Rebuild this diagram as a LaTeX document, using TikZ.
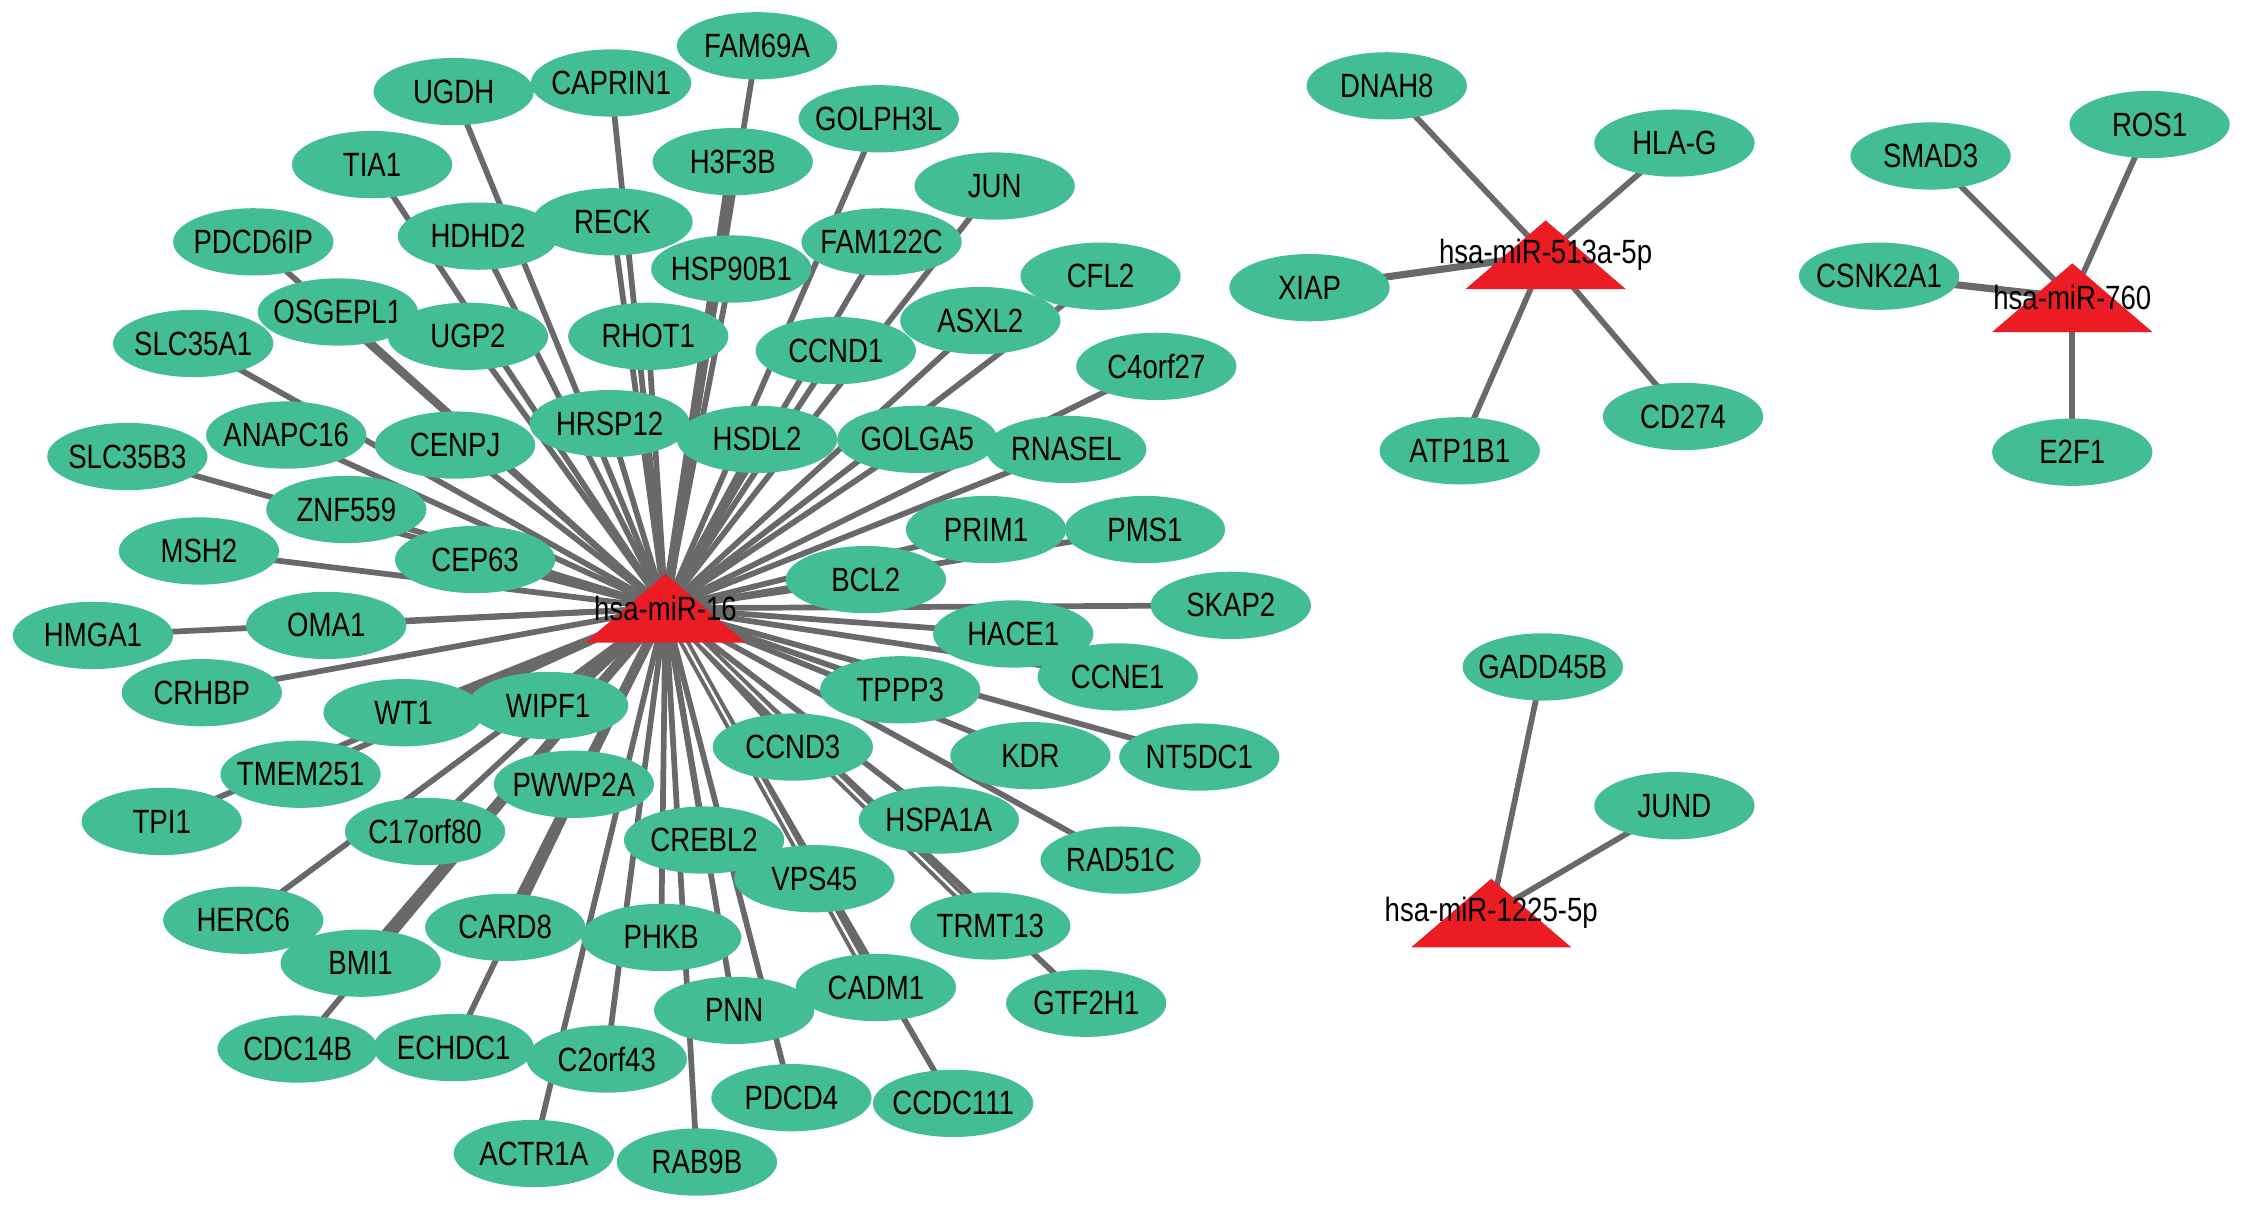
\documentclass[tikz,border=0pt]{standalone}
\usepackage{fontspec}
\setmainfont{Liberation Sans}[FakeStretch=0.82]
\usetikzlibrary{shapes.geometric}
\pgfdeclarelayer{background}
\pgfsetlayers{background,main}
\definecolor{gcol}{RGB}{67,189,148}
\definecolor{rcol}{RGB}{236,28,36}
\definecolor{ecol}{RGB}{105,105,105}
\begin{document}
\begin{tikzpicture}[x=1pt,y=-1pt,
  zerow/.style={execute at begin node={\hbox to 0pt\bgroup\hss}, execute at end node={\hss\egroup}},
  gene/.style={ellipse, fill=gcol, minimum width=112pt, minimum height=47pt, inner sep=0pt, outer sep=0pt, font=\fontsize{23.5}{28}\selectfont, zerow},
  mir/.style={rectangle, minimum width=112pt, minimum height=48pt, inner sep=0pt, outer sep=0pt, font=\fontsize{23.5}{28}\selectfont, zerow,
    path picture={\fill[rcol] (path picture bounding box.south west) -- (path picture bounding box.south east) -- (path picture bounding box.north) -- cycle;}},
  lnk/.style={draw=ecol, line width=4pt},
  lnkw/.style={draw=ecol, line width=7pt},
  lnkm/.style={draw=ecol, line width=5pt},
  lnkd/.style={draw=ecol, line width=2.8pt, double=white, double distance=1.6pt}]
\useasboundingbox (0,0) rectangle (1568,845);
% genes of hsa-miR-16
\node[gene] (FAM69A) at (529,32) {FAM69A};
\node[gene] (UGDH) at (317,64) {UGDH};
\node[gene] (CAPRIN1) at (427,58) {CAPRIN1};
\node[gene] (GOLPH3L) at (614,83) {GOLPH3L};
\node[gene] (H3F3B) at (512,113) {H3F3B};
\node[gene] (TIA1) at (260,115) {TIA1};
\node[gene] (JUN) at (695,130) {JUN};
\node[gene] (HDHD2) at (334,165) {HDHD2};
\node[gene] (RECK) at (428,155) {RECK};
\node[gene] (HSP90B1) at (511,188) {HSP90B1};
\node[gene] (FAM122C) at (616,169) {FAM122C};
\node[gene] (CFL2) at (769,193) {CFL2};
\node[gene] (PDCD6IP) at (177,169) {PDCD6IP};
\node[gene] (OSGEPL1) at (236,218) {OSGEPL1};
\node[gene] (UGP2) at (327,235) {UGP2};
\node[gene] (RHOT1) at (453,235) {RHOT1};
\node[gene] (CCND1) at (584,245) {CCND1};
\node[gene] (ASXL2) at (685,224) {ASXL2};
\node[gene] (C4orf27) at (808,256) {C4orf27};
\node[gene] (SLC35A1) at (135,240) {SLC35A1};
\node[gene] (ANAPC16) at (200,304) {ANAPC16};
\node[gene] (CENPJ) at (318,311) {CENPJ};
\node[gene] (HRSP12) at (426,296) {HRSP12};
\node[gene] (HSDL2) at (529,307) {HSDL2};
\node[gene] (GOLGA5) at (641,307) {GOLGA5};
\node[gene] (RNASEL) at (745,314) {RNASEL};
\node[gene] (SLC35B3) at (89,319) {SLC35B3};
\node[gene] (ZNF559) at (242,356) {ZNF559};
\node[gene] (CEP63) at (332,391) {CEP63};
\node[gene] (MSH2) at (139,385) {MSH2};
\node[gene] (PRIM1) at (689,370) {PRIM1};
\node[gene] (PMS1) at (800,370) {PMS1};
\node[gene] (BCL2) at (605,405) {BCL2};
\node[gene] (SKAP2) at (860,423) {SKAP2};
\node[gene] (HMGA1) at (65,444) {HMGA1};
\node[gene] (OMA1) at (228,437) {OMA1};
\node[gene] (HACE1) at (708,443) {HACE1};
\node[gene] (CCNE1) at (781,473) {CCNE1};
\node[gene] (CRHBP) at (141,484) {CRHBP};
\node[gene] (WT1) at (282,498) {WT1};
\node[gene] (WIPF1) at (383,493) {WIPF1};
\node[gene] (TPPP3) at (629,482) {TPPP3};
\node[gene] (KDR) at (720,528) {KDR};
\node[gene] (NT5DC1) at (838,529) {NT5DC1};
\node[gene] (CCND3) at (554,522) {CCND3};
\node[gene] (TMEM251) at (210,541) {TMEM251};
\node[gene] (PWWP2A) at (401,548) {PWWP2A};
\node[gene] (TPI1) at (113,574) {TPI1};
\node[gene] (C17orf80) at (297,581) {C17orf80};
\node[gene] (HSPA1A) at (656,573) {HSPA1A};
\node[gene] (CREBL2) at (492,587) {CREBL2};
\node[gene] (VPS45) at (569,614) {VPS45};
\node[gene] (RAD51C) at (783,601) {RAD51C};
\node[gene] (HERC6) at (170,643) {HERC6};
\node[gene] (CARD8) at (353,648) {CARD8};
\node[gene] (PHKB) at (462,655) {PHKB};
\node[gene] (TRMT13) at (692,647) {TRMT13};
\node[gene] (BMI1) at (252,673) {BMI1};
\node[gene] (CADM1) at (612,690) {CADM1};
\node[gene] (GTF2H1) at (759,701) {GTF2H1};
\node[gene] (PNN) at (513,706) {PNN};
\node[gene] (CDC14B) at (208,733) {CDC14B};
\node[gene] (ECHDC1) at (317,732) {ECHDC1};
\node[gene] (C2orf43) at (424,740) {C2orf43};
\node[gene] (PDCD4) at (553,767) {PDCD4};
\node[gene] (CCDC111) at (666,771) {CCDC111};
\node[gene] (ACTR1A) at (373,806) {ACTR1A};
\node[gene] (RAB9B) at (487,812) {RAB9B};
% other clusters
\node[gene] (DNAH8) at (969,60) {DNAH8};
\node[gene] (HLAG) at (1170,100) {HLA-G};
\node[gene] (XIAP) at (915,201) {XIAP};
\node[gene] (ATP1B1) at (1020,315) {ATP1B1};
\node[gene] (CD274) at (1176,291) {CD274};
\node[gene] (SMAD3) at (1349,109) {SMAD3};
\node[gene] (ROS1) at (1502,87) {ROS1};
\node[gene] (CSNK2A1) at (1313,193) {CSNK2A1};
\node[gene] (E2F1) at (1448,316) {E2F1};
\node[gene] (GADD45B) at (1078,466) {GADD45B};
\node[gene] (JUND) at (1170,563) {JUND};
% miRNAs
\node[mir] (m16) at (465,425) {hsa-miR-16};
\node[mir] (m513) at (1080,178) {hsa-miR-513a-5p};
\node[mir] (m760) at (1448,208) {hsa-miR-760};
\node[mir] (m1225) at (1042,638) {hsa-miR-1225-5p};
% connectors
\begin{pgfonlayer}{background}
\foreach \n in {FAM69A,UGDH,CAPRIN1,GOLPH3L,TIA1,JUN,HDHD2,RECK,HSP90B1,FAM122C,CFL2,PDCD6IP,OSGEPL1,UGP2,RHOT1,CCND1,ASXL2,C4orf27,SLC35A1,ANAPC16,CENPJ,HRSP12,HSDL2,GOLGA5,RNASEL,SLC35B3,ZNF559,CEP63,MSH2,PRIM1,PMS1,BCL2,SKAP2,HMGA1,OMA1,HACE1,CCNE1,CRHBP,WT1,WIPF1,TPPP3,KDR,NT5DC1,CCND3,TMEM251,PWWP2A,TPI1,C17orf80,HSPA1A,CREBL2,VPS45,RAD51C,HERC6,PHKB,GTF2H1,PNN,CDC14B,ECHDC1,C2orf43,PDCD4,CCDC111,ACTR1A,RAB9B}
  \draw[lnk] (m16.center) -- (\n.center);
\foreach \n in {H3F3B,BMI1,CARD8}
  \draw[lnkw] (m16.center) -- (\n.center);
\foreach \n in {TRMT13,CADM1}
  \draw[lnkd] (m16.center) -- (\n.center);
\foreach \n in {DNAH8,HLAG,ATP1B1,CD274}
  \draw[lnk] (m513.center) -- (\n.center);
\draw[lnkm] (m513.center) -- (XIAP.center);
\foreach \n in {SMAD3,ROS1,E2F1}
  \draw[lnk] (m760.center) -- (\n.center);
\draw[lnkm] (m760.center) -- (CSNK2A1.center);
\foreach \n in {GADD45B,JUND}
  \draw[lnk] (m1225.center) -- (\n.center);
\end{pgfonlayer}
\end{tikzpicture}
\end{document}
